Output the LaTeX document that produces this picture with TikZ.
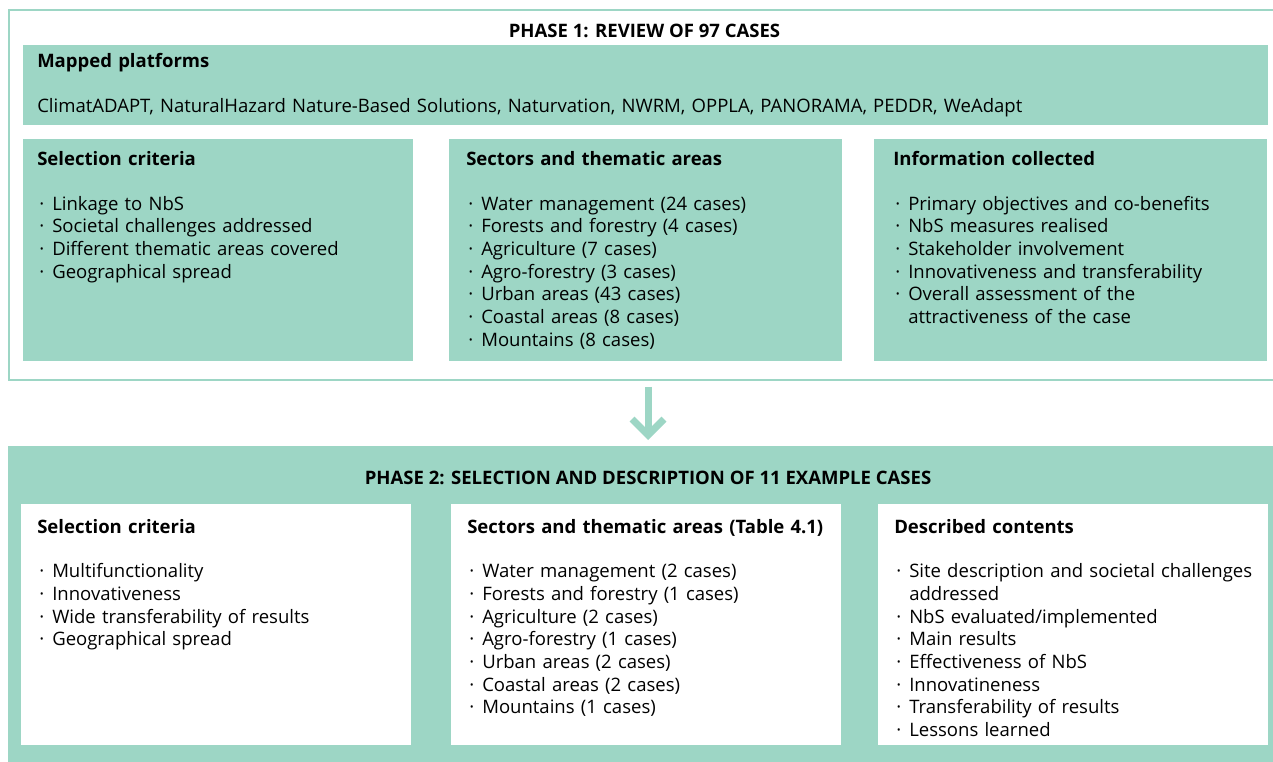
\documentclass[tikz,border=0pt]{standalone}
\usepackage{fontspec}
\setmainfont{Open Sans}
\usetikzlibrary{arrows.meta}

\definecolor{nbsgreen}{RGB}{157,214,197}

\newcommand{\hd}[1]{\textbf{#1}\par\vspace{16.5pt}}
\newcommand{\itm}[1]{\par\hangindent=11.25pt\hangafter=1\noindent\makebox[11.25pt][l]{\hspace{1.5pt}·}#1\par}

\tikzset{
    txt/.style={anchor=base west, inner sep=0pt, text width=285pt,
        font=\fontsize{13.9}{17}\selectfont\raggedright},
    ttl/.style={anchor=base, inner sep=0pt, font=\fontsize{13.9}{16}\selectfont\bfseries},
}

\begin{document}
\begin{tikzpicture}[x=0.75pt, y=-0.75pt]
            \clip (0,0) rectangle (1273,762);

            %frames
            \draw[nbsgreen, line width=1.5pt] (9,10) rectangle (1290,380);
            \fill[nbsgreen] (23,45) rectangle (1268,125);
            \fill[nbsgreen] (23,139) rectangle (413,361);
            \fill[nbsgreen] (449,139) rectangle (842,361);
            \fill[nbsgreen] (874,139) rectangle (1267,361);
            \fill[nbsgreen] (8,446) rectangle (1290,770);
            \fill[white] (21,504) rectangle (411,745);
            \fill[white] (451,504) rectangle (841,745);
            \fill[white] (878,504) rectangle (1268,745);

            %nodes
            \node[ttl] (t1) at (644.5,38) {PHASE 1: REVIEW OF 97 CASES};
            \node[txt, text width=900pt] (map) at (37,68) {\hd{Mapped platforms}
                ClimatADAPT, NaturalHazard Nature-Based Solutions, Naturvation, NWRM, OPPLA, PANORAMA, PEDDR, WeAdapt};

            \node[txt] (sel1) at (37,165.5) {\hd{Selection criteria}
                \itm{Linkage to NbS}
                \itm{Societal challenges addressed}
                \itm{Different thematic areas covered}
                \itm{Geographical spread}};
            \node[txt] (sec1) at (466,165.5) {\hd{Sectors and thematic areas}
                \itm{Water management (24 cases)}
                \itm{Forests and forestry (4 cases)}
                \itm{Agriculture (7 cases)}
                \itm{Agro-forestry (3 cases)}
                \itm{Urban areas (43 cases)}
                \itm{Coastal areas (8 cases)}
                \itm{Mountains (8 cases)}};
            \node[txt] (inf1) at (893,165.5) {\hd{Information collected}
                \itm{Primary objectives and co-benefits}
                \itm{NbS measures realised}
                \itm{Stakeholder involvement}
                \itm{Innovativeness and transferability}
                \itm{Overall assessment of the\break attractiveness of the case}};

            \node[ttl] (t2) at (648,484.3) {PHASE 2: SELECTION AND DESCRIPTION OF 11 EXAMPLE CASES};

            \node[txt] (sel2) at (37,533) {\hd{Selection criteria}
                \itm{Multifunctionality}
                \itm{Innovativeness}
                \itm{Wide transferability of results}
                \itm{Geographical spread}};
            \node[txt] (sec2) at (467,533) {\hd{Sectors and thematic areas (Table 4.1)}
                \itm{Water management (2 cases)}
                \itm{Forests and forestry (1 cases)}
                \itm{Agriculture (2 cases)}
                \itm{Agro-forestry (1 cases)}
                \itm{Urban areas (2 cases)}
                \itm{Coastal areas (2 cases)}
                \itm{Mountains (1 cases)}};
            \node[txt] (des2) at (894,533) {\hd{Described contents}
                \itm{Site description and societal challenges\break addressed}
                \itm{NbS evaluated/implemented}
                \itm{Main results}
                \itm{Effectiveness of NbS}
                \itm{Innovatineness}
                \itm{Transferability of results}
                \itm{Lessons learned}};

            %edges
            \coordinate (arrtop) at (648,387);
            \coordinate (arrbot) at (648,440);
            \draw[nbsgreen, line width=5.25pt, -{Straight Barb[length=12pt, width=24pt]}] (arrtop) -- (arrbot);
        \end{tikzpicture}
\end{document}
